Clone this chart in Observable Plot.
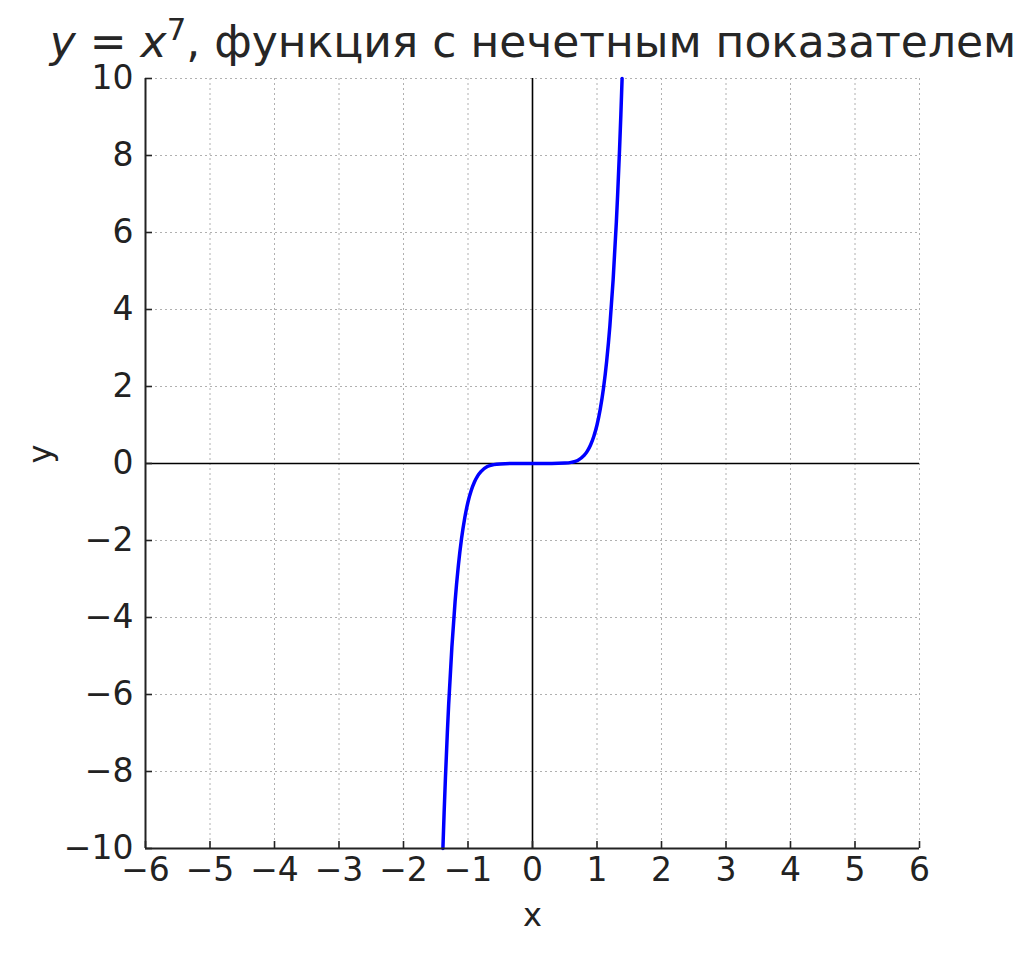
<!DOCTYPE html>
<html><head><meta charset="utf-8">
<script src="https://cdn.jsdelivr.net/npm/d3@7"></script>
<script src="https://cdn.jsdelivr.net/npm/@observablehq/plot@0.6"></script>
<style>
body{margin:0;background:#fff;font-family:"DejaVu Sans",sans-serif;}
#wrap{position:relative;width:1036px;height:955px;}
#title{position:absolute;left:0;width:1066px;top:16px;text-align:center;font-size:44px;color:#262626;white-space:nowrap;font-family:"DejaVu Sans",sans-serif;}
#title i{font-style:oblique;}
#chart{position:absolute;left:0;top:0;}
</style></head>
<body>
<div id="wrap">
<div id="chart"></div>
<div id="title"><i>y</i> = <i>x</i><sup style="font-size:0.7em;vertical-align:0.55em;line-height:0">7</sup>, функция с нечетным показателем</div>
</div>
<script>
const xValues = [-1.389,-1.37,-1.35,-1.32,-1.3,-1.25,-1.2,-1.15,-1.1,-1.05,-1,-0.95,-0.9,-0.85,-0.8,-0.7,-0.6,-0.5,-0.3,0,0.3,0.5,0.6,0.7,0.8,0.85,0.9,0.95,1,1.05,1.1,1.15,1.2,1.25,1.3,1.32,1.35,1.37,1.389];
const yValues = [-10,-9.06,-8.17,-6.98,-6.27,-4.77,-3.58,-2.66,-1.95,-1.41,-1,-0.7,-0.48,-0.32,-0.21,-0.08,-0.03,-0.01,0,0,0,0.01,0.03,0.08,0.21,0.32,0.48,0.7,1,1.41,1.95,2.66,3.58,4.77,6.27,6.98,8.17,9.06,10];
const xTicks = [-6,-5,-4,-3,-2,-1,0,1,2,3,4,5,6];
const yTicks = [-10,-8,-6,-4,-2,0,2,4,6,8,10];

const pts = xValues.map((x, i) => ({x, y: yValues[i]}));
const fmt = d => d < 0 ? "\u2212" + (-d) : String(d);
const ink = "#222";

const plot = Plot.plot({
  width: 1036,
  height: 955,
  marginLeft: 145,
  marginRight: 117,
  marginTop: 78,
  marginBottom: 107,
  style: {fontFamily: "DejaVu Sans, sans-serif", fontSize: "33px", color: ink, background: "white", overflow: "visible"},
  x: {domain: [-6, 6]},
  y: {domain: [-10, 10]},
  marks: [
    Plot.gridX(xTicks, {stroke: "#b0b0b0", strokeOpacity: 1, strokeDasharray: "2,3", strokeWidth: 1}),
    Plot.gridY(yTicks, {stroke: "#b0b0b0", strokeOpacity: 1, strokeDasharray: "2,3", strokeWidth: 1}),
    Plot.ruleX([0], {stroke: "black", strokeWidth: 1.6}),
    Plot.ruleY([0], {stroke: "black", strokeWidth: 1.6}),
    Plot.line(pts, {x: "x", y: "y", stroke: "#0000ff", strokeWidth: 3.5, curve: "monotone-x"}),
    Plot.ruleX([-6], {stroke: ink, strokeWidth: 2}),
    Plot.ruleY([-10], {stroke: ink, strokeWidth: 2}),
    Plot.axisX(xTicks, {tickSize: -7, text: null, stroke: ink, strokeWidth: 1.6, label: null}),
    Plot.axisY(yTicks, {tickSize: -7, text: null, stroke: ink, strokeWidth: 1.6, label: null}),
    Plot.axisX(xTicks, {tickSize: 0, tickPadding: 9, tickFormat: fmt, fontSize: 33, fill: ink, label: null}),
    Plot.axisY(yTicks, {tickSize: 0, tickPadding: 12, tickFormat: fmt, fontSize: 33, fill: ink, label: null}),
    Plot.text(["x"], {frameAnchor: "bottom", dy: 77, fontSize: 32, fill: ink}),
    Plot.text(["y"], {frameAnchor: "left", dx: -105, rotate: -90, fontSize: 32, fill: ink})
  ]
});
document.getElementById("chart").appendChild(plot);
</script>
</body></html>
